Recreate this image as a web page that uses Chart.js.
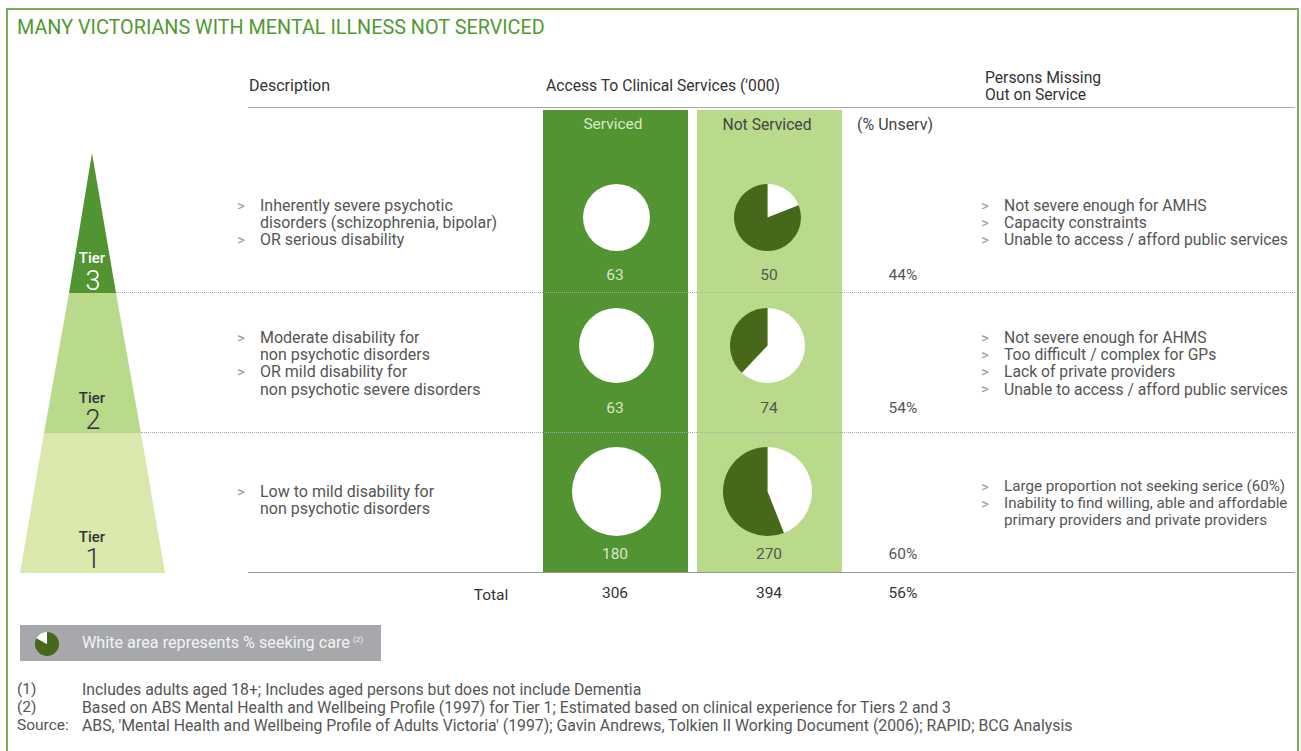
<!DOCTYPE html>
<html>
<head>
<meta charset="utf-8">
<script src="https://cdn.jsdelivr.net/npm/chart.js@4.4.1/dist/chart.umd.min.js"></script>
<style>
    html, body { margin: 0; padding: 0; background: #fff; }
    #page { position: relative; width: 1301px; height: 751px; overflow: hidden; font-family: Roboto, "Noto Sans", sans-serif; color: #555; }
    .t { position: absolute; white-space: nowrap; line-height: 1; transform: translateY(-50%); }
    .c { transform: translate(-50%, -50%); }
    .abs { position: absolute; }
    canvas { display: block; }
</style>
</head>
<body>
<div id="page"></div>
<script>
// ---- data ----
const tierLabels = ['3', '2', '1'];
const servicedValues = [63, 63, 180];
const notServicedValues = [50, 74, 270];
const unservedPct = [44, 54, 60];
const totalLabel = 'Total';
const totalValues = [306, 394, 56];
// share of each group seeking care (white slice)
const servicedSeeking = [100, 100, 100];
const notServicedSeeking = [19, 62, 44];
const legendSeeking = [83, 17];

const descriptions = [
    [['Inherently severe psychotic', 'disorders (schizophrenia, bipolar)'], ['OR serious disability']],
    [['Moderate disability for', 'non psychotic disorders'], ['OR mild disability for', 'non psychotic severe disorders']],
    [['Low to mild disability for', 'non psychotic disorders']]
];
const reasons = [
    [['Not severe enough for AMHS'], ['Capacity constraints'], ['Unable to access / afford public services']],
    [['Not severe enough for AHMS'], ['Too difficult / complex for GPs'], ['Lack of private providers'], ['Unable to access / afford public services']],
    [['Large proportion not seeking serice (60%)'], ['Inability to find willing, able and affordable', 'primary providers and private providers']]
];
const footnotes = [
    ['(1)', 'Includes adults aged 18+; Includes aged persons but does not include Dementia'],
    ['(2)', 'Based on ABS Mental Health and Wellbeing Profile (1997) for Tier 1; Estimated based on clinical experience for Tiers 2 and 3'],
    ['Source:', "ABS, 'Mental Health and Wellbeing Profile of Adults Victoria' (1997); Gavin Andrews, Tolkien II Working Document (2006); RAPID; BCG Analysis"]
];

const GREEN = '#529432';
const LIGHT = '#b9d98b';
const PALE = '#dbe8ad';
const DARK = '#47681a';

const page = document.getElementById('page');

function box(x, y, w, h, css) {
    const d = document.createElement('div');
    d.className = 'abs';
    d.style.left = x + 'px';
    d.style.top = y + 'px';
    d.style.width = w + 'px';
    d.style.height = h + 'px';
    Object.assign(d.style, css || {});
    page.appendChild(d);
    return d;
}

function txt(x, y, s, size, color, extra) {
    const d = document.createElement('div');
    d.className = 't' + (extra && extra.center ? ' c' : '');
    d.style.left = x + 'px';
    d.style.top = y + 'px';
    d.style.fontSize = size + 'px';
    d.style.color = color;
    if (extra && extra.weight) d.style.fontWeight = extra.weight;
    if (extra && extra.html) d.innerHTML = s; else d.textContent = s;
    page.appendChild(d);
    return d;
}

// frame
box(6, 8, 1289, 760, { border: '2px solid #76b255', borderBottom: 'none' });
txt(17, 28, 'MANY VICTORIANS WITH MENTAL ILLNESS NOT SERVICED', 19.8, '#4f9a2f');

// columns
box(543, 110, 145, 463, { background: GREEN });
box(697, 110, 145, 463, { background: LIGHT });

// header
txt(249, 86, 'Description', 16, '#333');
txt(546, 86, "Access To Clinical Services ('000)", 15.7, '#333');
txt(985, 78, 'Persons Missing', 15.7, '#333');
txt(985, 95, 'Out on Service', 15.7, '#333');
box(248, 107, 1047, 0, { borderTop: '1.5px solid #aaa' });
txt(613, 125, 'Serviced', 15.5, '#d6e9c6', { center: true });
txt(767, 125, 'Not Serviced', 15.7, '#444', { center: true });
txt(857, 125, '(% Unserv)', 16, '#444');

// row separators
box(116, 292, 1179, 0, { borderTop: '1px dotted #aaa' });
box(141, 432, 1154, 0, { borderTop: '1px dotted #aaa' });
box(248, 572, 1047, 0, { borderTop: '1.5px solid #999' });

// pyramid
const pyr = document.createElementNS('http://www.w3.org/2000/svg', 'svg');
pyr.setAttribute('width', 200);
pyr.setAttribute('height', 600);
pyr.style.position = 'absolute';
pyr.style.left = '0px';
pyr.style.top = '0px';
pyr.innerHTML =
    '<polygon points="92,153 116,293 69,293" fill="' + GREEN + '"/>' +
    '<polygon points="69,293 116,293 141,433 44,433" fill="' + LIGHT + '"/>' +
    '<polygon points="44,433 141,433 165,573 20,573" fill="' + PALE + '"/>';
page.appendChild(pyr);
const tierTextY = [[258, 281], [398, 420], [537, 559]];
tierLabels.forEach((t, i) => {
    const col = i === 0 ? '#fff' : '#333';
    txt(92, tierTextY[i][0], 'Tier', 15, col, { center: true, weight: 500 });
    txt(93, tierTextY[i][1], t, 27, col, { center: true, weight: 300 });
});

// bullet text blocks
function bullets(xb, xt, y0, items, size) {
    let y = y0;
    items.forEach(lines => {
        txt(xb, y - 0.5, '>', 15, '#999');
        lines.forEach(l => {
            txt(xt, y, l, size, '#555');
            y += 17.2;
        });
    });
}
const descStart = [206, 338, 492];
const reasonStart = [206, 338, 487];
const reasonSize = [15.7, 15.7, 15.2];
descriptions.forEach((d, i) => bullets(237, 260, descStart[i], d, 16));
reasons.forEach((r, i) => bullets(981, 1004, reasonStart[i], r, reasonSize[i]));

// values
const valY = [276, 409, 555];
servicedValues.forEach((v, i) => {
    txt(615, valY[i], String(v), 15.5, '#d6e9c6', { center: true });
    txt(769, valY[i], String(notServicedValues[i]), 15.5, '#555', { center: true });
    txt(903, valY[i], unservedPct[i] + '%', 15.5, '#555', { center: true });
});
txt(491, 596, totalLabel, 15.5, '#333', { center: true });
txt(615, 594, String(totalValues[0]), 15.5, '#333', { center: true });
txt(769, 594, String(totalValues[1]), 15.5, '#333', { center: true });
txt(903, 594, totalValues[2] + '%', 15.5, '#333', { center: true });

// pies
function pie(cx, cy, d, data, colors) {
    const holder = box(cx - d / 2, cy - d / 2, d, d);
    const cv = document.createElement('canvas');
    cv.width = d;
    cv.height = d;
    holder.appendChild(cv);
    return new Chart(cv, {
        type: 'pie',
        data: {
            datasets: [{
                data: data,
                backgroundColor: colors,
                borderWidth: 0,
                hoverOffset: 0
            }]
        },
        options: {
            responsive: false,
            animation: false,
            events: [],
            layout: { padding: 0 },
            plugins: {
                legend: { display: false },
                tooltip: { enabled: false }
            }
        }
    });
}
const pieY = [217, 345, 491];
const pieD = [67, 75, 89];
servicedSeeking.forEach((s, i) => {
    pie(616.5, pieY[i], pieD[i], [s, 100 - s], ['#ffffff', DARK]);
    pie(767.5, pieY[i], pieD[i], [notServicedSeeking[i], 100 - notServicedSeeking[i]], ['#ffffff', DARK]);
});

// legend
box(20, 625, 361, 36, { background: '#a6a8ab' });
pie(47, 644, 24, legendSeeking, [DARK, '#ffffff']);
txt(82, 643, 'White area represents % seeking care<sup style="font-size:8px;vertical-align:6px;margin-left:3px">(2)</sup>', 16.2, '#f4f4f4', { html: true });

// footnotes
const footY = [690, 708, 726];
footnotes.forEach((f, i) => {
    txt(17, footY[i], f[0], 15.5, '#555');
    txt(82, footY[i], f[1], 15.8, '#555');
});
</script>
</body>
</html>
